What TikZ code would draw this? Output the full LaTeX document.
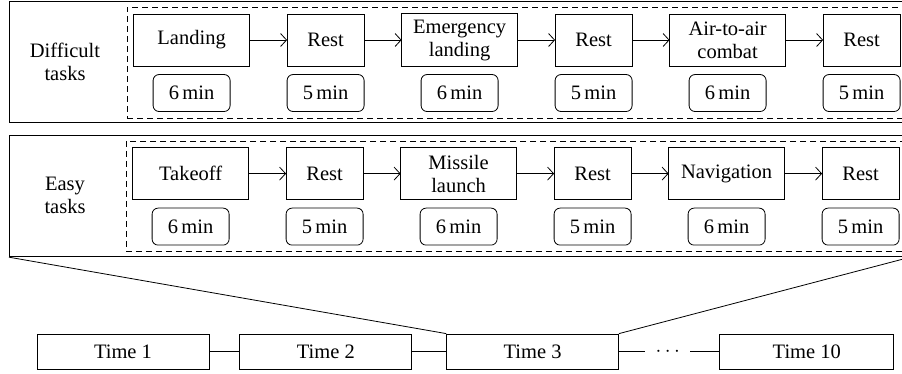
\documentclass[tikz,border=0pt]{standalone}
\usepackage{fontspec}
\setmainfont{Liberation Serif}
\usetikzlibrary{arrows.meta}
\usetikzlibrary{positioning}
\usetikzlibrary{matrix}
\usetikzlibrary{fit}

\tikzset{
  task/.style={draw, line width=0.8pt, text width=104pt, inner sep=6pt, minimum height=52pt, align=center},
  rest/.style={task, text width=65pt},
  dur/.style={draw, line width=0.8pt, rounded corners=6pt, minimum width=77pt, minimum height=37pt},
  timebox/.style={draw, line width=0.8pt, minimum width=172pt, minimum height=35pt},
  group/.style={draw, line width=1.2pt, minimum width=900pt, minimum height=121pt, anchor=north west},
  frame/.style={draw, line width=0.9pt, dash pattern=on 6pt off 4pt, inner sep=6pt},
  flow/.style={-{Straight Barb[length=6pt, width=13pt]}, line width=0.8pt},
}

\begin{document}
\begin{tikzpicture}[x=1pt, y=-1pt, font=\fontsize{20.5}{23}\selectfont]
\useasboundingbox (0,0) rectangle (902,374);
\node[group] (hardgrp) at (9,1) {};
\node[align=center] (hardlbl) at (65,61.5) {Difficult\\tasks};
\matrix (hard) [matrix of nodes, anchor=north west, inner sep=0pt,
nodes={anchor=center, outer sep=0pt},
row sep={53pt,between origins},
column sep={134pt,between origins}] at (133,13)
{
|[task](h1)|{Landing} & |[rest](h2)|{Rest} & |[task](h3)|{Emergency landing} & |[rest](h4)|{Rest} & |[task](h5)|{Air-to-air combat} & |[rest](h6)|{Rest} \\
|[dur](hd1)|{6\,min} & |[dur](hd2)|{5\,min} & |[dur](hd3)|{6\,min} & |[dur](hd4)|{5\,min} & |[dur](hd5)|{6\,min} & |[dur](hd6)|{5\,min} \\
};
\node[frame, fit=(hard)] (hardbox) {};
\draw[flow] (h1) -- (h2);
\draw[flow] (h2) -- (h3);
\draw[flow] (h3) -- (h4);
\draw[flow] (h4) -- (h5);
\draw[flow] (h5) -- (h6);

\node[group] (easygrp) at (9,135) {};
\node[align=center] (easylbl) at (65,195) {Easy\\tasks};
\matrix (easy) [matrix of nodes, anchor=north west, inner sep=0pt,
nodes={anchor=center, outer sep=0pt},
row sep={53pt,between origins},
column sep={134pt,between origins}] at (132,147)
{
|[task](e1)|{Takeoff} & |[rest](e2)|{Rest} & |[task](e3)|{Missile launch} & |[rest](e4)|{Rest} & |[task](e5)|{Navigation} & |[rest](e6)|{Rest} \\
|[dur](ed1)|{6\,min} & |[dur](ed2)|{5\,min} & |[dur](ed3)|{6\,min} & |[dur](ed4)|{5\,min} & |[dur](ed5)|{6\,min} & |[dur](ed6)|{5\,min} \\
};
\node[frame, fit=(easy)] (easybox) {};
\draw[flow] (e1) -- (e2);
\draw[flow] (e2) -- (e3);
\draw[flow] (e3) -- (e4);
\draw[flow] (e4) -- (e5);
\draw[flow] (e5) -- (e6);

\node[timebox] (t1) at (123,351.5) {Time 1};
\node[timebox, right=30pt of t1] (t2) {Time 2};
\node[timebox, right=34pt of t2] (t3) {Time 3};
\node[minimum width=45pt, inner sep=0pt, right=26pt of t3] (dots) {$\cdots$};
\node[timebox, minimum width=174pt, right=29pt of dots] (t10) {Time 10};
\draw[line width=0.8pt] (t1) -- (t2);
\draw[line width=0.8pt] (t2) -- (t3);
\draw[line width=0.8pt] (t3) -- (dots);
\draw[line width=0.8pt] (dots) -- (t10);
\draw[line width=0.8pt] (easygrp.south west) -- (t3.north west);
\draw[line width=0.8pt] (easygrp.south east) -- (t3.north east);
\end{tikzpicture}
\end{document}
